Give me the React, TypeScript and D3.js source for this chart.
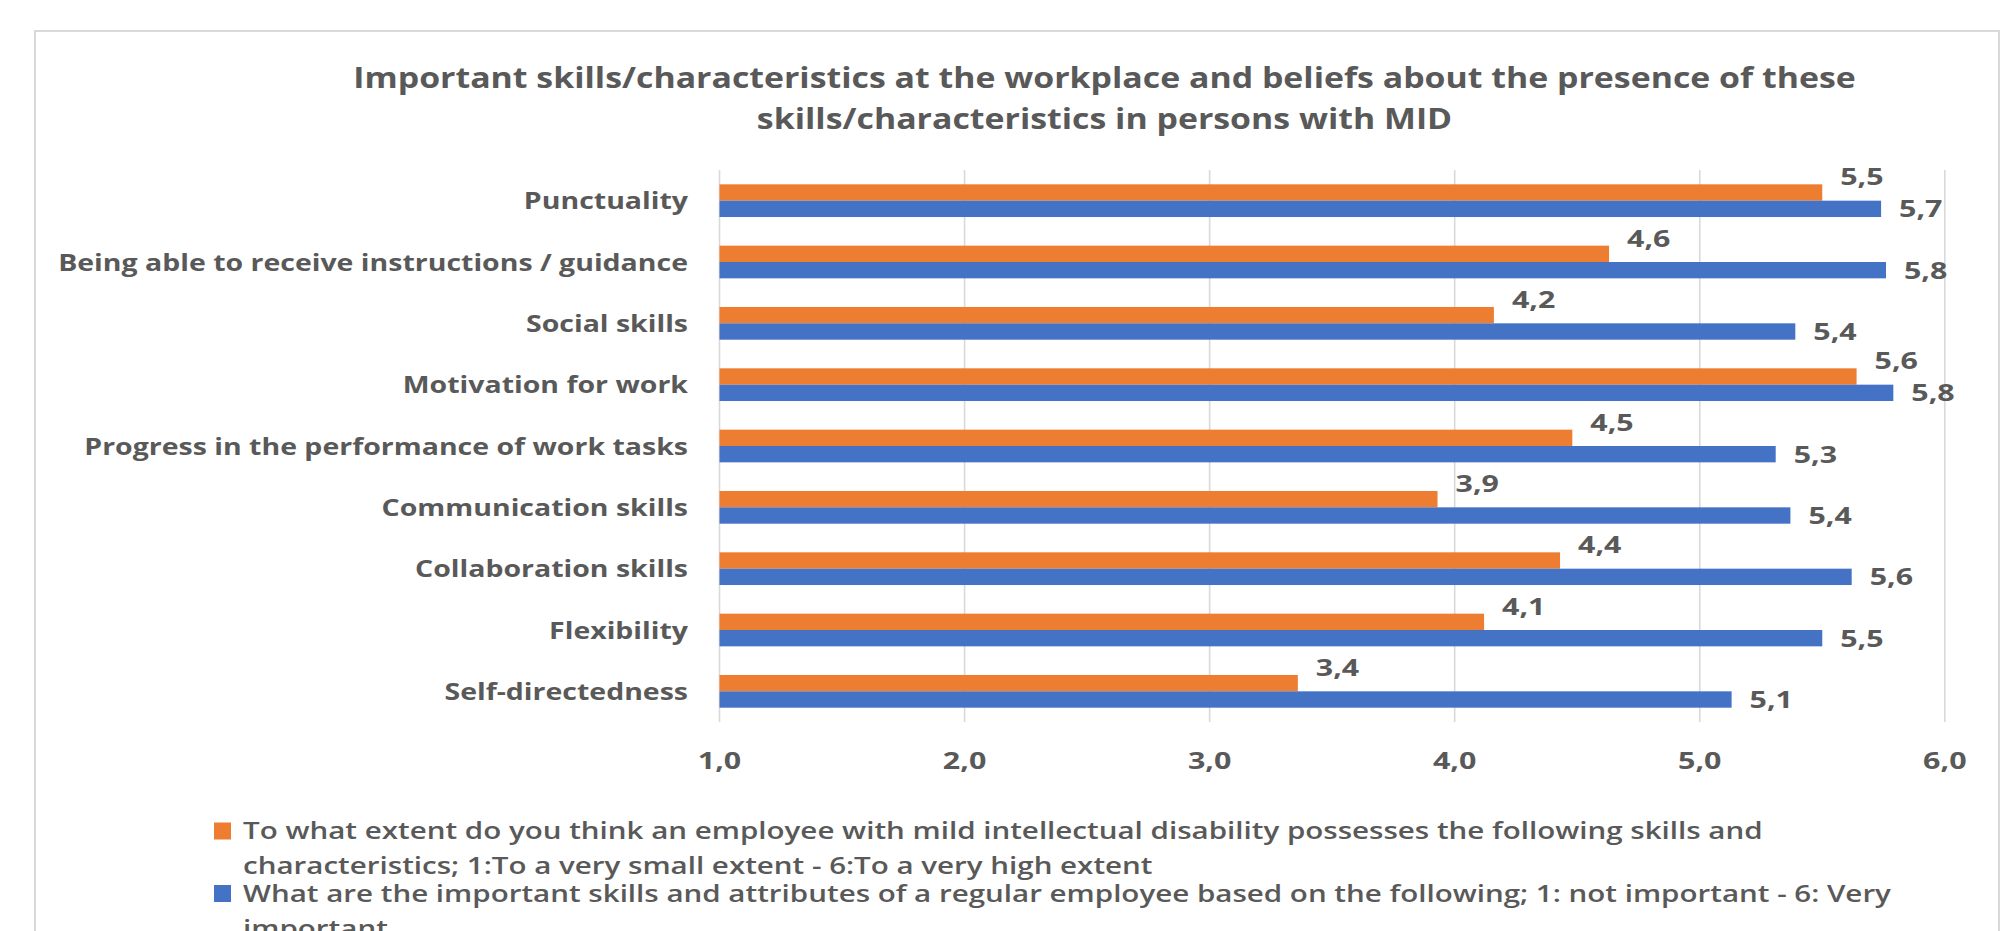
import React, { useLayoutEffect, useRef, useState } from "react";
import * as d3 from "d3";

const categories = [
  "Punctuality",
  "Being able to receive instructions / guidance",
  "Social skills",
  "Motivation for work",
  "Progress in the performance of work tasks",
  "Communication skills",
  "Collaboration skills",
  "Flexibility",
  "Self-directedness",
];
const mildValues = [5.5, 4.63, 4.16, 5.64, 4.48, 3.93, 4.43, 4.12, 3.36];
const regularValues = [5.74, 5.76, 5.39, 5.79, 5.31, 5.37, 5.62, 5.5, 5.13];
const xTicks = [1, 2, 3, 4, 5, 6];
const titleLines = [
  "Important skills/characteristics at the workplace and beliefs about the presence of these",
  "skills/characteristics in persons with MID",
];
const mildLegendLines = [
  "To what extent do you think an employee with mild intellectual disability possesses the following skills and",
  "characteristics; 1:To a very small extent - 6:To a very high extent",
];
const regularLegendLines = [
  "What are the important skills and attributes of a regular employee based on the following; 1: not important - 6: Very",
  "important",
];

const ORANGE = "#ED7D31";
const BLUE = "#4472C4";
const TEXT = "#595959";
const GRID = "#D9D9D9";
const FONT = "'Open Sans', 'DejaVu Sans', sans-serif";

// target text widths used to fit the font's horizontal proportions
const FIT = { title: 1503, cat: 630, data: 43.4, tick: 43.5, legend: 1520 };

const fmt = (v: number) => d3.format(".1f")(v).replace(".", ",");

export default function App() {
  const W = 2001;
  const H = 931;
  const plot = { left: 719.5, right: 1944.8, top: 170, bottom: 722 };

  const x = d3.scaleLinear().domain([1, 6]).range([plot.left, plot.right]);
  const y = d3
    .scaleBand<string>()
    .domain(categories)
    .range([plot.top, plot.bottom])
    .paddingInner(0.467)
    .paddingOuter(0.2335);
  const sub = d3.scaleBand<string>().domain(["mild", "regular"]).range([0, y.bandwidth()]);

  const titleRef = useRef<SVGTextElement>(null);
  const catRef = useRef<SVGTextElement>(null);
  const dataRef = useRef<SVGTextElement>(null);
  const tickRef = useRef<SVGTextElement>(null);
  const legRef = useRef<SVGTextElement>(null);
  const [k, setK] = useState({ title: 1, cat: 1, data: 1, tick: 1, legend: 1 });

  useLayoutEffect(() => {
    document.body.style.margin = "0";
    document.body.style.overflow = "hidden";
    const m = (r: React.RefObject<SVGTextElement>, t: number) => {
      const el = r.current;
      if (!el) return 1;
      const w = el.getComputedTextLength();
      return w > 0 ? t / w : 1;
    };
    setK({
      title: m(titleRef, FIT.title),
      cat: m(catRef, FIT.cat),
      data: m(dataRef, FIT.data),
      tick: m(tickRef, FIT.tick),
      legend: m(legRef, FIT.legend),
    });
  }, []);

  const catLongest = categories.reduce((a, b) => (b.length > a.length ? b : a), "");

  return (
    <svg width={W} height={H} style={{ display: "block", background: "#fff" }} fontFamily={FONT}>
      <rect x={0} y={0} width={W} height={H} fill="#fff" />
      {/* chart border */}
      <rect x={35} y={31} width={1964} height={1000} fill="#fff" stroke={GRID} strokeWidth={2} />

      {/* title */}
      {titleLines.map((t, i) => (
        <text
          key={t}
          ref={i === 0 ? titleRef : undefined}
          transform={`translate(1104.5,${87.5 + i * 41}) scale(${k.title},1)`}
          textAnchor="middle"
          fontSize={29}
          fontWeight={700}
          fill={TEXT}
        >
          {t}
        </text>
      ))}

      {/* gridlines */}
      {xTicks.map((t) => (
        <line key={t} x1={x(t)} x2={x(t)} y1={plot.top} y2={plot.bottom} stroke={GRID} strokeWidth={1.6} />
      ))}

      {/* tick labels */}
      {xTicks.map((t, i) => (
        <text
          key={t}
          ref={i === 0 ? tickRef : undefined}
          transform={`translate(${x(t)},769) scale(${k.tick},1)`}
          textAnchor="middle"
          fontSize={24}
          fontWeight={700}
          fill={TEXT}
        >
          {fmt(t)}
        </text>
      ))}

      {/* bars */}
      {categories.map((c, i) => {
        const y0 = y(c)!;
        const yM = y0 + sub("mild")!;
        const yR = y0 + sub("regular")!;
        const h = sub.bandwidth();
        return (
          <g key={c}>
            <rect x={x(1)} y={yM} width={x(mildValues[i]) - x(1)} height={h} fill={ORANGE} />
            <rect x={x(1)} y={yR} width={x(regularValues[i]) - x(1)} height={h} fill={BLUE} />
          </g>
        );
      })}

      {/* data labels */}
      {categories.map((c, i) => {
        const y0 = y(c)!;
        const yM = y0 + sub("mild")!;
        const yR = y0 + sub("regular")!;
        const h = sub.bandwidth();
        return (
          <g key={c} fontSize={23} fontWeight={700} fill={TEXT}>
            <text
              ref={i === 0 ? dataRef : undefined}
              transform={`translate(${x(mildValues[i]) + 18},${yM + 1}) scale(${k.data},1)`}
            >
              {fmt(mildValues[i])}
            </text>
            <text transform={`translate(${x(regularValues[i]) + 18},${yR + h / 2 + 8.5}) scale(${k.data},1)`}>
              {fmt(regularValues[i])}
            </text>
          </g>
        );
      })}

      {/* category labels */}
      {categories.map((c) => (
        <text
          key={c}
          ref={c === catLongest ? catRef : undefined}
          transform={`translate(688,${y(c)! + y.bandwidth() / 2 + 8.5}) scale(${k.cat},1)`}
          textAnchor="end"
          fontSize={24}
          fontWeight={700}
          fill={TEXT}
        >
          {c}
        </text>
      ))}

      {/* legend */}
      <rect x={214} y={822.5} width={17} height={17} fill={ORANGE} />
      {mildLegendLines.map((t, i) => (
        <text
          key={t}
          ref={i === 0 ? legRef : undefined}
          transform={`translate(243,${839 + i * 35}) scale(${k.legend},1)`}
          fontSize={24}
          fontWeight={600}
          fill={TEXT}
        >
          {t}
        </text>
      ))}
      <rect x={214} y={885} width={17} height={17} fill={BLUE} />
      {regularLegendLines.map((t, i) => (
        <text
          key={t}
          transform={`translate(243,${902 + i * 35}) scale(${k.legend},1)`}
          fontSize={24}
          fontWeight={600}
          fill={TEXT}
        >
          {t}
        </text>
      ))}
    </svg>
  );
}
